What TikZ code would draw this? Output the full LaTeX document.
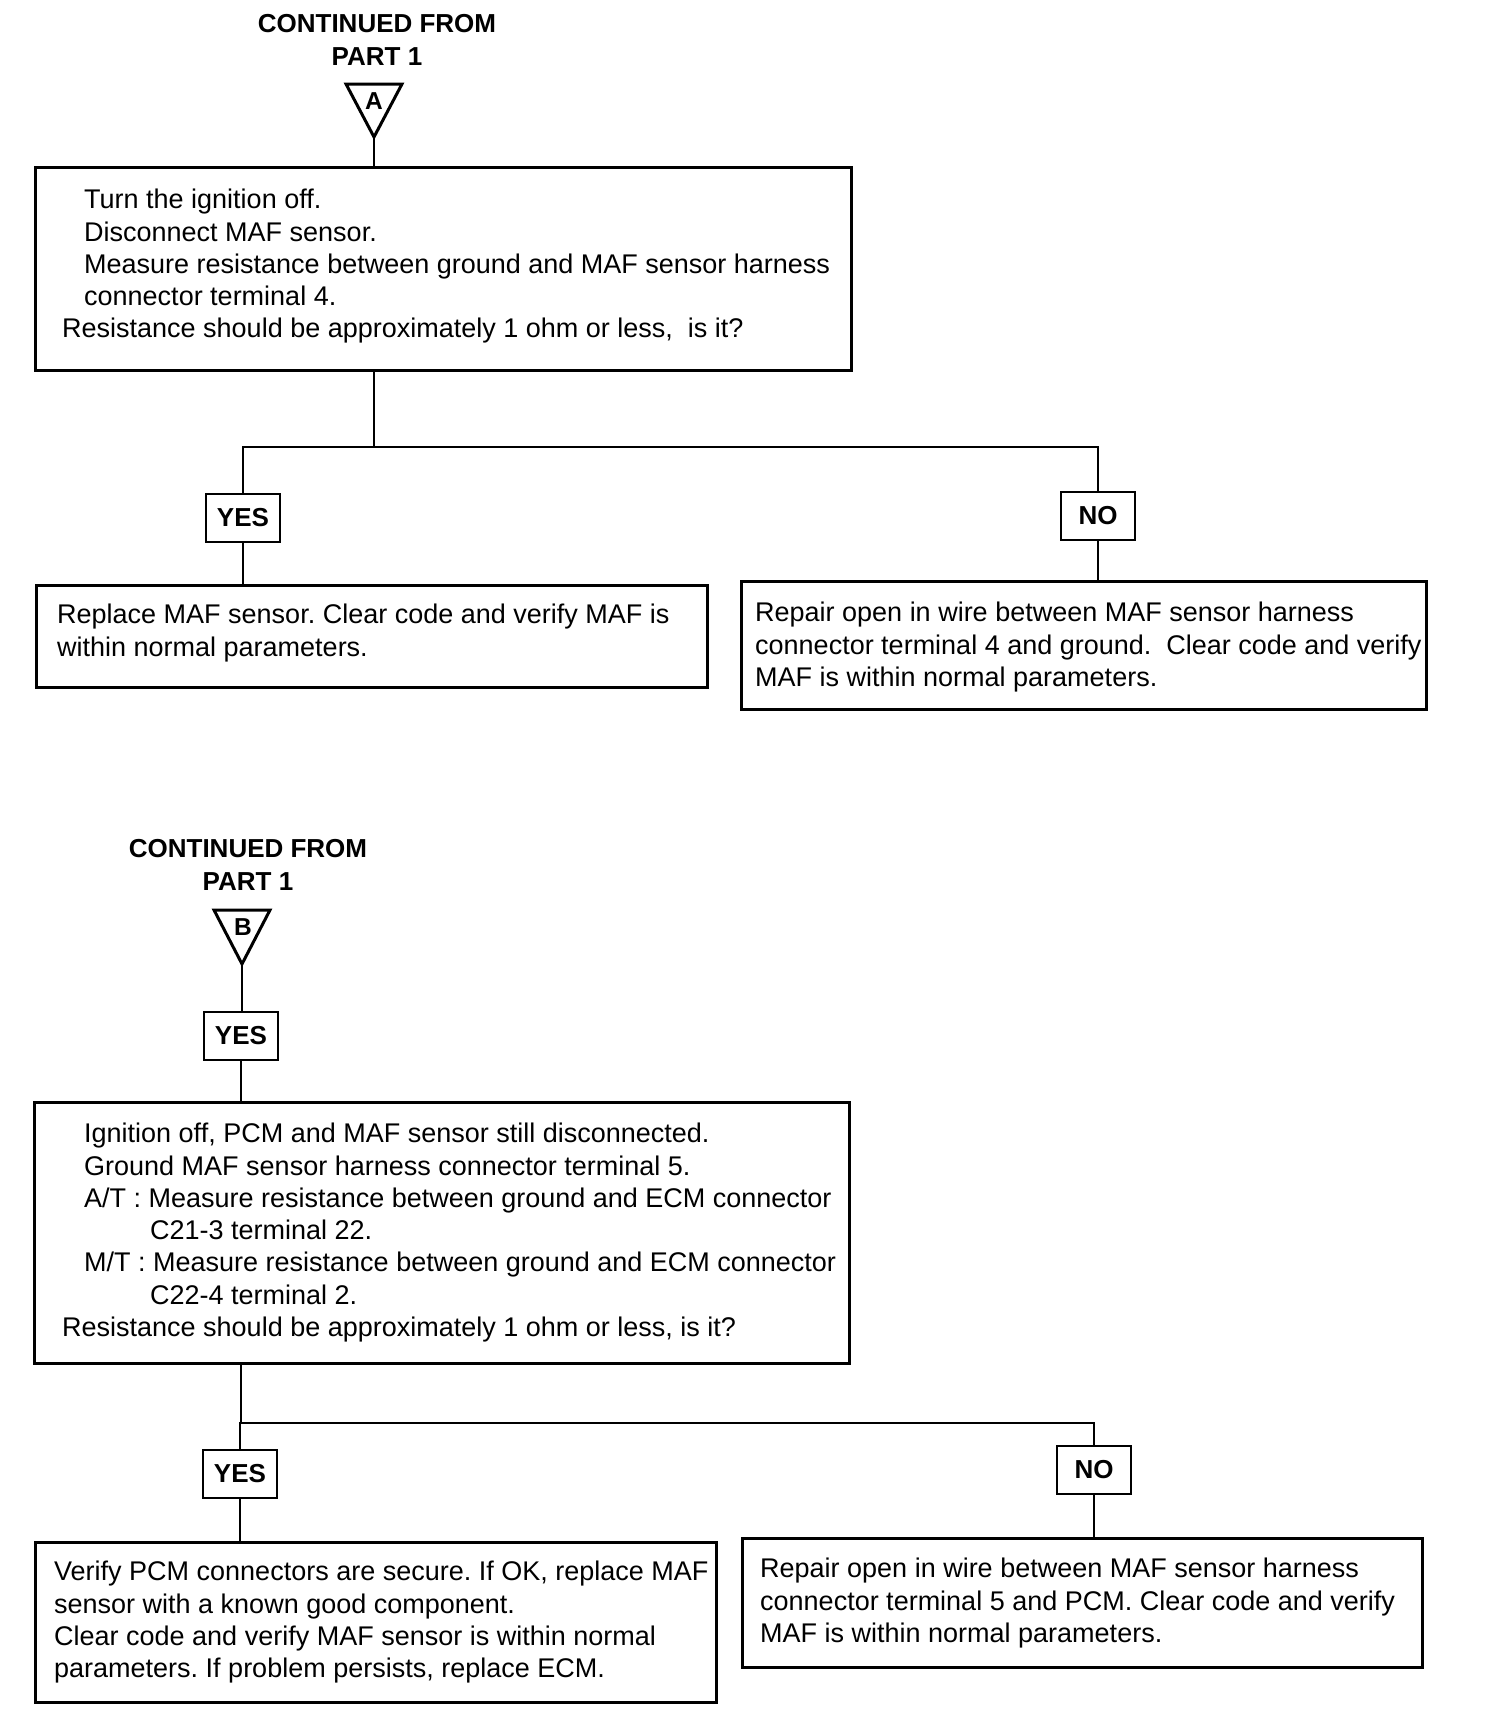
\documentclass[tikz,border=0pt]{standalone}
\usepackage{fontspec}
\setmainfont{Liberation Sans}
\frenchspacing
\begin{document}
\begin{tikzpicture}[x=1pt,y=-1pt,
  box/.style={draw,line width=2.7pt,rectangle,anchor=north west,inner sep=0pt},
  lbl/.style={draw,line width=2.7pt,rectangle,font=\bfseries\fontsize{26}{30}\selectfont,inner sep=0pt,minimum width=74pt,minimum height=48pt},
  txt/.style={anchor=north west,inner sep=0pt,align=left,font=\fontsize{27}{32.3}\selectfont},
  ttl/.style={font=\bfseries\fontsize{26}{33}\selectfont,align=center,inner sep=0pt},
  tri/.style={line width=3pt,line join=miter},
  letter/.style={font=\bfseries\fontsize{24.5}{24.5}\selectfont,inner sep=0pt},
  conn/.style={line width=2.5pt}]
\useasboundingbox (0,0) rectangle (1504,1714);

% ---------- Part A ----------
\node[ttl] (titleA) at (377,40) {CONTINUED FROM\\PART 1};
\draw[tri] (346,84) -- (402,84) -- (374,137) -- cycle;
\coordinate (apA) at (374,137);
\node[letter] (letA) at (374,101.5) {A};

\node[box,minimum width=816pt,minimum height=203pt] (boxA) at (34,166) {};
\node[txt] (tA) at (62,189) {\hspace*{22pt}Turn the ignition off.\\
\hspace*{22pt}Disconnect MAF sensor.\\
\hspace*{22pt}Measure resistance between ground and MAF sensor harness\\
\hspace*{22pt}connector terminal 4.\\
Resistance should be approximately 1 ohm or less,\ \ is it?};

\coordinate (splitA) at (374,447);
\node[lbl] (yesA) at (243,518) {YES};
\node[lbl] (noA) at (1098,516) {NO};

\node[box,minimum width=671pt,minimum height=102pt] (resA1) at (35,584) {};
\node[txt] (tA1) at (57,604) {Replace MAF sensor. Clear code and verify MAF is\\
within normal parameters.};

\node[box,minimum width=685pt,minimum height=128pt] (resA2) at (740,580) {};
\node[txt] (tA2) at (755,602) {Repair open in wire between MAF sensor harness\\
connector terminal 4 and ground.\ \ Clear code and verify\\
MAF is within normal parameters.};

\draw[conn] (apA) -- (apA |- boxA.north);
\draw[conn] (boxA.south -| apA) -- (splitA);
\draw[conn] (yesA.north) -- (yesA.north |- splitA) -- (noA.north |- splitA) -- (noA.north);
\draw[conn] (yesA.south) -- (yesA.south |- resA1.north);
\draw[conn] (noA.south) -- (noA.south |- resA2.north);

% ---------- Part B ----------
\node[ttl] (titleB) at (248,865) {CONTINUED FROM\\PART 1};
\draw[tri] (214,910) -- (270,910) -- (242,964) -- cycle;
\coordinate (apB) at (242,964);
\node[letter] (letB) at (243,927) {B};

\node[lbl] (yesB) at (241,1036) {YES};

\node[box,minimum width=815pt,minimum height=261pt] (boxB) at (33,1101) {};
\node[txt] (tB) at (62,1123) {\hspace*{22pt}Ignition off, PCM and MAF sensor still disconnected.\\
\hspace*{22pt}Ground MAF sensor harness connector terminal 5.\\
\hspace*{22pt}A/T : Measure resistance between ground and ECM connector\\
\hspace*{88pt}C21-3 terminal 22.\\
\hspace*{22pt}M/T : Measure resistance between ground and ECM connector\\
\hspace*{88pt}C22-4 terminal 2.\\
Resistance should be approximately 1 ohm or less, is it?};

\coordinate (splitB) at (241,1423);
\node[lbl] (yesB2) at (240,1474) {YES};
\node[lbl] (noB) at (1094,1470) {NO};

\node[box,minimum width=681pt,minimum height=160pt] (resB1) at (34,1541) {};
\node[txt] (tB1) at (54,1561) {Verify PCM connectors are secure. If OK, replace MAF\\
sensor with a known good component.\\
Clear code and verify MAF sensor is within normal\\
parameters. If problem persists, replace ECM.};

\node[box,minimum width=680pt,minimum height=129pt] (resB2) at (741,1537) {};
\node[txt] (tB2) at (760,1558) {Repair open in wire between MAF sensor harness\\
connector terminal 5 and PCM. Clear code and verify\\
MAF is within normal parameters.};

\draw[conn] (apB) -- (apB |- yesB.north);
\draw[conn] (yesB.south) -- (yesB.south |- boxB.north);
\draw[conn] (boxB.south -| splitB) -- (splitB);
\draw[conn] (yesB2.north) -- (yesB2.north |- splitB) -- (noB.north |- splitB) -- (noB.north);
\draw[conn] (yesB2.south) -- (yesB2.south |- resB1.north);
\draw[conn] (noB.south) -- (noB.south |- resB2.north);
\end{tikzpicture}
\end{document}
